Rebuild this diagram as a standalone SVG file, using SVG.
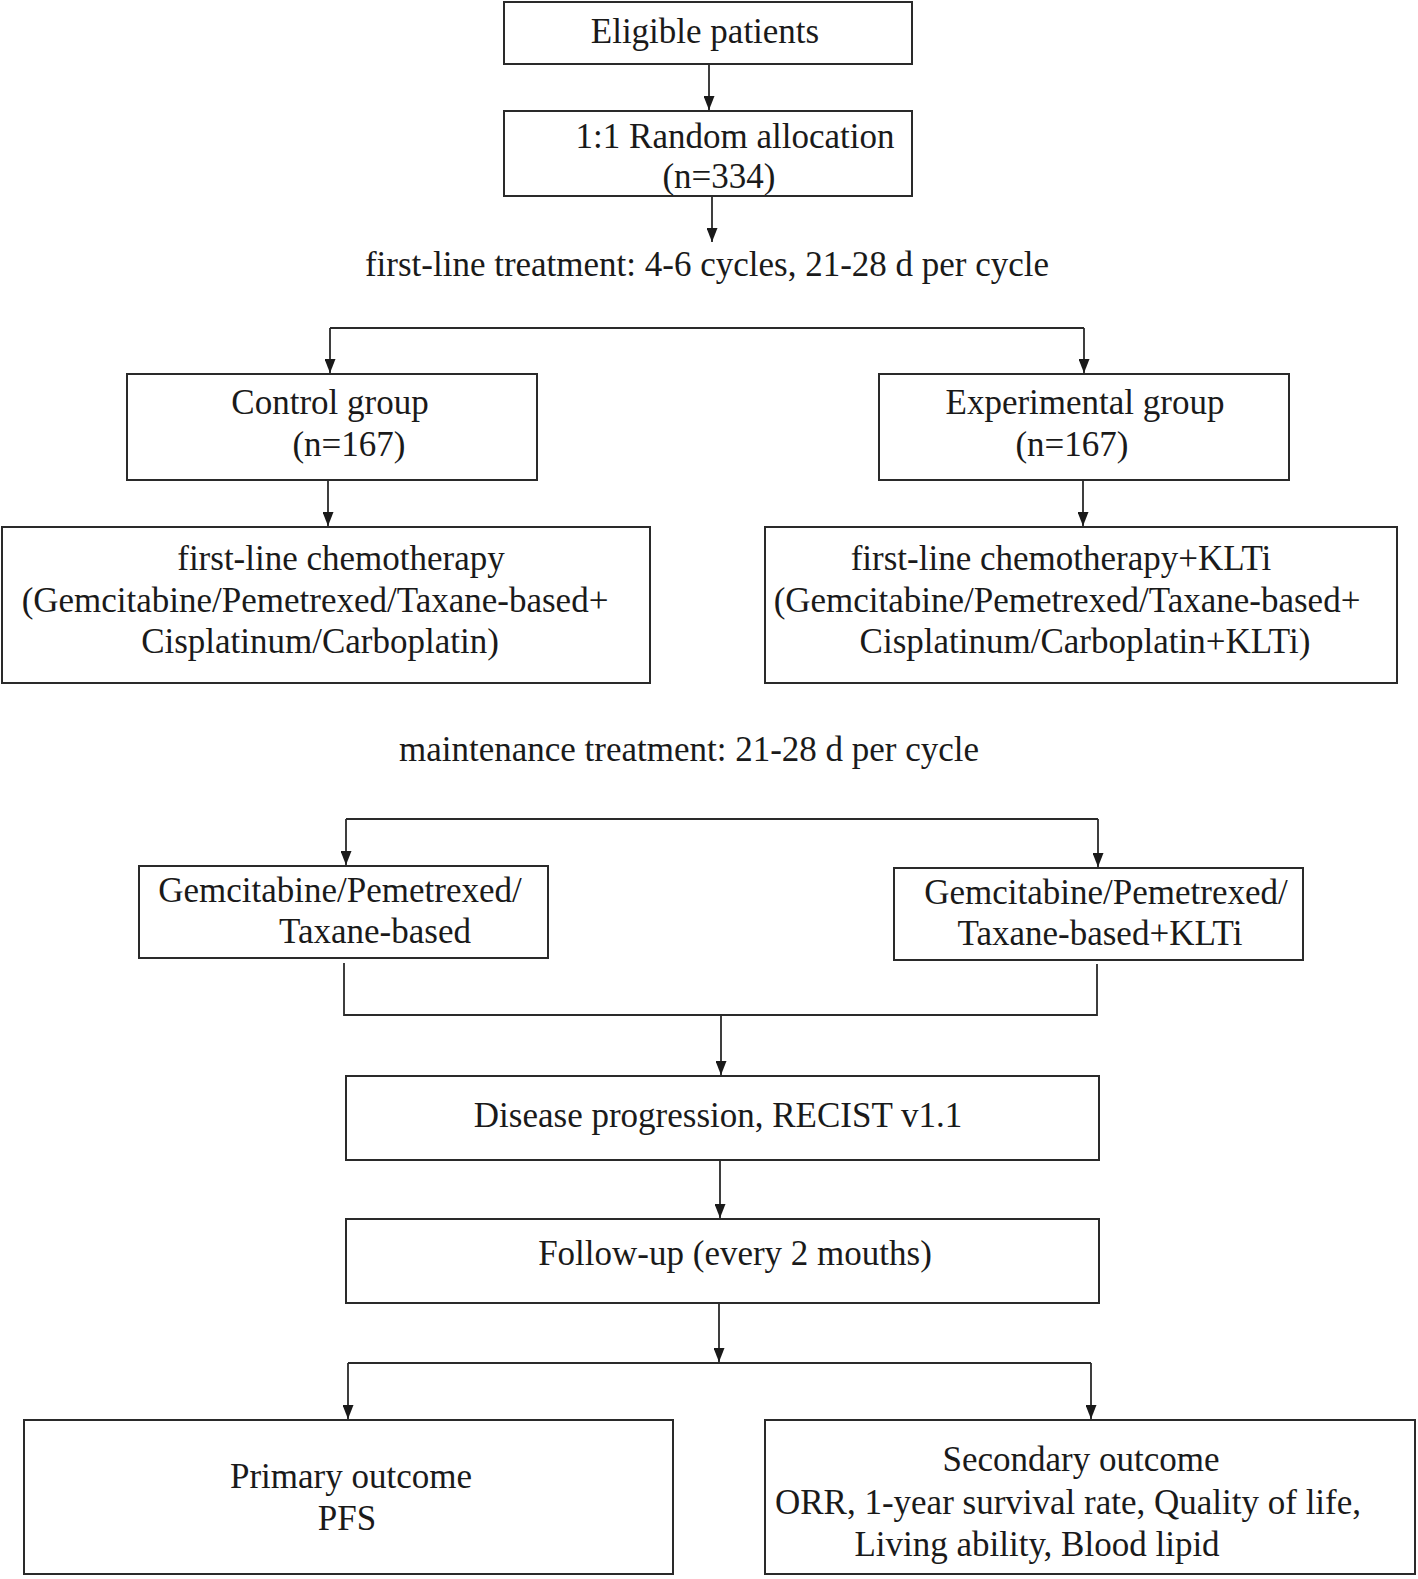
<svg xmlns="http://www.w3.org/2000/svg" width="1418" height="1579" viewBox="0 0 1418 1579">
<defs>
<style>
.box{fill:#fff;stroke:#2a2a2a;stroke-width:2}
.t{font-family:"Liberation Serif","Times New Roman",serif;font-size:35px;fill:#1a1a1a;text-anchor:middle}
.c{fill:none;stroke:#2a2a2a;stroke-width:1.8}
</style>
<marker id="ah" viewBox="0 0 14 11" refX="14" refY="5.5" markerWidth="14" markerHeight="11" markerUnits="userSpaceOnUse" orient="auto">
<path d="M0,0 L14,5.5 L0,11 z" fill="#1a1a1a"/>
</marker>
</defs>
<rect width="1418" height="1579" fill="#fff"/>

<g id="connectors">
<line class="c" x1="709" y1="64" x2="709" y2="110" marker-end="url(#ah)"/>
<line class="c" x1="712" y1="196" x2="712" y2="242" marker-end="url(#ah)"/>
<polyline class="c" points="330,328 1084,328"/>
<line class="c" x1="330" y1="328" x2="330" y2="373" marker-end="url(#ah)"/>
<line class="c" x1="1084" y1="328" x2="1084" y2="373" marker-end="url(#ah)"/>
<line class="c" x1="328" y1="480" x2="328" y2="526" marker-end="url(#ah)"/>
<line class="c" x1="1083" y1="480" x2="1083" y2="526" marker-end="url(#ah)"/>
<polyline class="c" points="346,819 1098,819"/>
<line class="c" x1="346" y1="819" x2="346" y2="865" marker-end="url(#ah)"/>
<line class="c" x1="1098" y1="819" x2="1098" y2="867" marker-end="url(#ah)"/>
<polyline class="c" points="344,963 344,1015 1097,1015 1097,964"/>
<line class="c" x1="721" y1="1015" x2="721" y2="1075" marker-end="url(#ah)"/>
<line class="c" x1="720" y1="1160" x2="720" y2="1218" marker-end="url(#ah)"/>
<line class="c" x1="719" y1="1303" x2="719" y2="1362" marker-end="url(#ah)"/>
<polyline class="c" points="348,1363 1091,1363"/>
<line class="c" x1="348" y1="1363" x2="348" y2="1419" marker-end="url(#ah)"/>
<line class="c" x1="1091" y1="1363" x2="1091" y2="1419" marker-end="url(#ah)"/>
</g>

<g id="eligible">
<rect class="box" x="504" y="2" width="408" height="62"/>
<text class="t" x="705" y="43">Eligible patients</text>
</g>
<g id="random">
<rect class="box" x="504" y="111" width="408" height="85"/>
<text class="t" x="735" y="148">1:1 Random allocation</text>
<text class="t" x="719" y="188">(n=334)</text>
</g>
<g id="firstline-label">
<text class="t" x="707" y="276">first-line treatment: 4-6 cycles, 21-28 d per cycle</text>
</g>
<g id="control">
<rect class="box" x="127" y="374" width="410" height="106"/>
<text class="t" x="330" y="414">Control group</text>
<text class="t" x="349" y="456">(n=167)</text>
</g>
<g id="experimental">
<rect class="box" x="879" y="374" width="410" height="106"/>
<text class="t" x="1085" y="414">Experimental group</text>
<text class="t" x="1072" y="456">(n=167)</text>
</g>
<g id="chemo-control">
<rect class="box" x="2" y="527" width="648" height="156"/>
<text class="t" x="341" y="570">first-line chemotherapy</text>
<text class="t" x="315" y="612">(Gemcitabine/Pemetrexed/Taxane-based+</text>
<text class="t" x="320" y="653">Cisplatinum/Carboplatin)</text>
</g>
<g id="chemo-experimental">
<rect class="box" x="765" y="527" width="632" height="156"/>
<text class="t" x="1061" y="570">first-line chemotherapy+KLTi</text>
<text class="t" x="1067" y="612">(Gemcitabine/Pemetrexed/Taxane-based+</text>
<text class="t" x="1085" y="653">Cisplatinum/Carboplatin+KLTi)</text>
</g>
<g id="maintenance-label">
<text class="t" x="689" y="761">maintenance treatment: 21-28 d per cycle</text>
</g>
<g id="maint-control">
<rect class="box" x="139" y="866" width="409" height="92"/>
<text class="t" x="340" y="902">Gemcitabine/Pemetrexed/</text>
<text class="t" x="375" y="943">Taxane-based</text>
</g>
<g id="maint-experimental">
<rect class="box" x="894" y="868" width="409" height="92"/>
<text class="t" x="1106" y="904">Gemcitabine/Pemetrexed/</text>
<text class="t" x="1100" y="945">Taxane-based+KLTi</text>
</g>
<g id="progression">
<rect class="box" x="346" y="1076" width="753" height="84"/>
<text class="t" x="718" y="1127">Disease progression, RECIST v1.1</text>
</g>
<g id="followup">
<rect class="box" x="346" y="1219" width="753" height="84"/>
<text class="t" x="735" y="1265">Follow-up (every 2 mouths)</text>
</g>
<g id="primary">
<rect class="box" x="24" y="1420" width="649" height="154"/>
<text class="t" x="351" y="1488">Primary outcome</text>
<text class="t" x="347" y="1530">PFS</text>
</g>
<g id="secondary">
<rect class="box" x="765" y="1420" width="650" height="154"/>
<text class="t" x="1081" y="1471">Secondary outcome</text>
<text class="t" x="1068" y="1514">ORR, 1-year survival rate, Quality of life,</text>
<text class="t" x="1037" y="1556">Living ability, Blood lipid</text>
</g>
</svg>
